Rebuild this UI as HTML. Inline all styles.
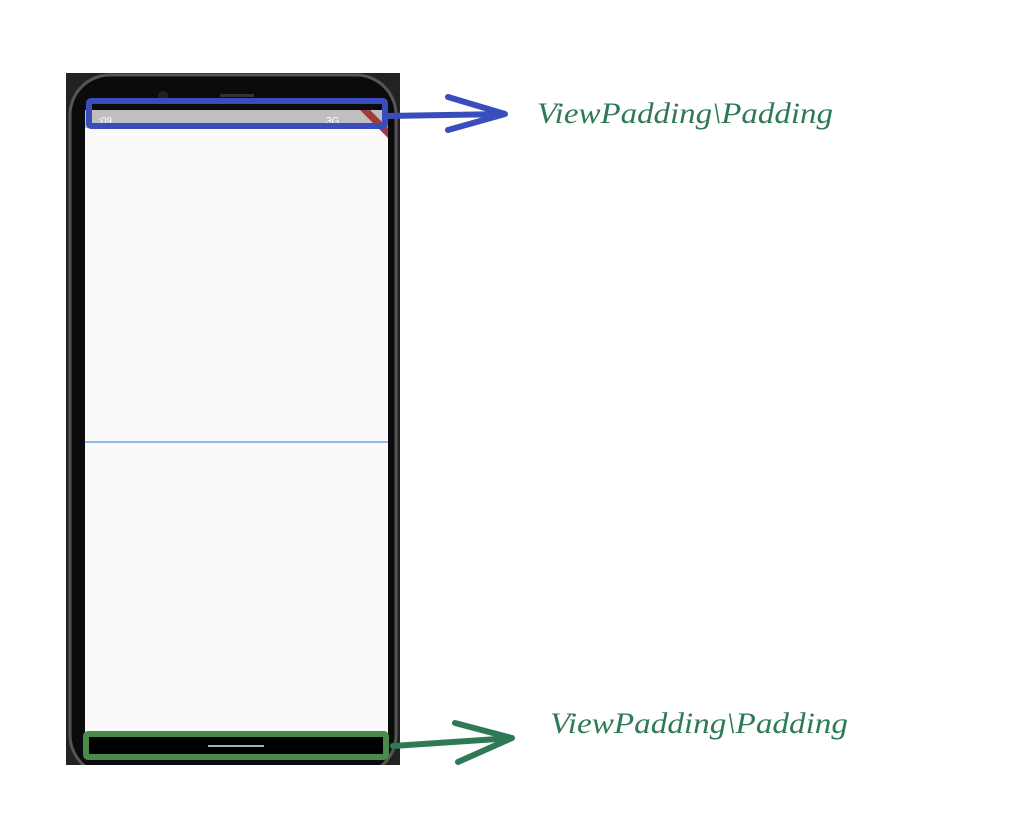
<!DOCTYPE html>
<html><head><style>body{margin:0;background:#fff}svg{display:block}</style></head><body>
<svg width="1014" height="822" xmlns="http://www.w3.org/2000/svg">
<defs><clipPath id="bg"><rect x="66" y="73" width="334" height="692"/></clipPath></defs>
<rect x="66" y="73" width="334" height="692" fill="#222"/>
<g clip-path="url(#bg)">
<rect x="70" y="75" width="326" height="700" rx="40" fill="#0b0b0d" stroke="#555" stroke-width="3"/>
</g>
<circle cx="163" cy="96" r="5" fill="#222"/>
<rect x="220" y="94" width="34" height="3" fill="#333"/>
<path d="M85 128 Q85 110 103 110 L370 110 Q388 110 388 128 L388 733 L85 733 Z" fill="#fafafa"/>
<rect x="85" y="110" width="303" height="18" fill="#bfbfbf"/>
<text x="98" y="124" font-family="Liberation Sans, sans-serif" font-size="10" fill="#fff">:09</text>
<text x="326" y="124" font-family="Liberation Sans, sans-serif" font-size="10" fill="#fff">3G</text>
<polygon points="360,110 370,110 388,128 388,138" fill="#a33a3a"/>
<line x1="85" y1="442" x2="388" y2="442" stroke="#6aa8e0" stroke-width="1.5"/>
<rect x="85" y="733" width="303" height="22" fill="#000"/>
<line x1="208" y1="746" x2="264" y2="746" stroke="#aaa" stroke-width="2"/>
<rect x="89" y="101" width="296" height="25" fill="none" stroke="#3a4dbd" stroke-width="6" rx="2"/>
<path d="M386 116 L505 114 M448 97 L505 114 L448 130" fill="none" stroke="#3a4dbd" stroke-width="6" stroke-linecap="round" stroke-linejoin="round"/>
<text x="537" y="123" textLength="296" lengthAdjust="spacingAndGlyphs" font-family="URW Chancery L, Liberation Serif, cursive" font-style="italic" font-size="30" fill="#2e7a57">ViewPadding\Padding</text>
<rect x="86" y="734" width="300" height="23" fill="none" stroke="#4a8a4a" stroke-width="6" rx="2"/>
<path d="M393 746 L512 738 M455 723 L512 738 L458 762" fill="none" stroke="#2e7a57" stroke-width="6" stroke-linecap="round" stroke-linejoin="round"/>
<text x="550" y="733" textLength="298" lengthAdjust="spacingAndGlyphs" font-family="URW Chancery L, Liberation Serif, cursive" font-style="italic" font-size="30" fill="#2e7a57">ViewPadding\Padding</text>
</svg>
</body></html>
